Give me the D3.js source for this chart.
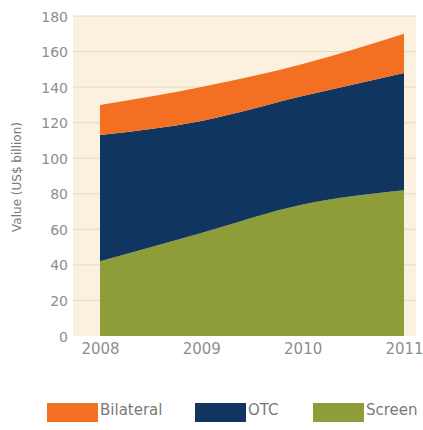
<!DOCTYPE html>
<html><head><meta charset="utf-8">
<script src="https://cdnjs.cloudflare.com/ajax/libs/d3/7.8.5/d3.min.js"></script>
<style>body{margin:0;background:#fff}svg{display:block}text{font-family:"DejaVu Sans",sans-serif}</style>
</head><body><svg id="c" width="423" height="430"></svg>
<script>
const years = ["2008","2009","2010","2011"];
const screen = [42,58,74,82];
const otc = [71,63,61,66];
const bilateral = [17,19,18,22];
const yTicks = [0,20,40,60,80,100,120,140,160,180];
const seriesNames = ["Bilateral","OTC","Screen"];
const colors = {Screen:"#8f9d38",OTC:"#0f3560",Bilateral:"#f36f21"};

const svg = d3.select("#c");
const x = d3.scalePoint().domain(years).range([100,404]);
const y = d3.scaleLinear().domain([0,180]).range([336,16]);

svg.append("rect").attr("x",73).attr("y",16).attr("width",343).attr("height",320).attr("fill","#fcf1de");

const table = years.map((yr,i)=>({year:yr,Screen:screen[i],OTC:otc[i],Bilateral:bilateral[i]}));
const stack = d3.stack().keys(["Screen","OTC","Bilateral"])(table);

svg.append("g").selectAll("line").data(yTicks.filter(d=>d>0)).join("line")
  .attr("x1",73).attr("x2",416).attr("y1",d=>y(d)).attr("y2",d=>y(d))
  .attr("stroke","#e6d9c3").attr("stroke-width",1);

const area = d3.area().x(d=>x(d.data.year)).y0(d=>y(d[0])).y1(d=>y(d[1])).curve(d3.curveMonotoneX);
svg.append("g").selectAll("path").data(stack).join("path")
  .attr("d",area).attr("fill",d=>colors[d.key]);

const yAxis = d3.axisLeft(y).tickValues(yTicks).tickSize(0).tickPadding(0);
const ga = svg.append("g").attr("transform","translate(68,0)").call(yAxis);
ga.select(".domain").remove();
ga.selectAll("text").attr("fill","#8e8e8e").attr("font-size",14).attr("font-family","DejaVu Sans").attr("dy","0.36em");

const xAxis = d3.axisBottom(x).tickSize(0).tickPadding(0);
const gx = svg.append("g").attr("transform","translate(0,343)").call(xAxis);
gx.select(".domain").remove();
gx.selectAll("text").attr("fill","#8e8e8e").attr("font-size",15).attr("font-family","DejaVu Sans").attr("y",0).attr("dy","0.76em");

svg.append("text").attr("transform","translate(21,177) rotate(-90)").attr("text-anchor","middle")
  .attr("font-size",12).attr("fill","#7a7a7a").text("Value (US$ billion)");

const legX = [47,195,313];
const lg = svg.append("g").selectAll("g").data(seriesNames).join("g")
  .attr("transform",(d,i)=>`translate(${legX[i]},403)`);
lg.append("rect").attr("width",51).attr("height",19).attr("fill",d=>colors[d]);
lg.append("text").attr("x",53).attr("y",12).attr("font-size",15).attr("fill","#7a7a7a").text(d=>d);
</script></body></html>
